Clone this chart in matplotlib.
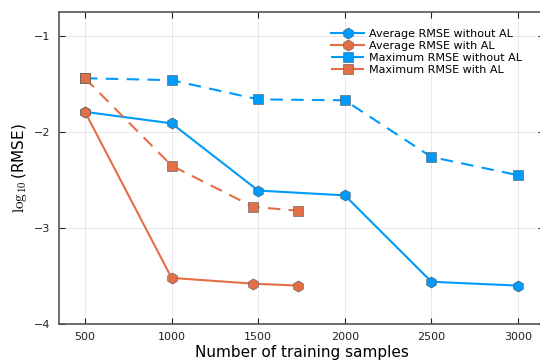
import matplotlib
matplotlib.use("Agg")
import matplotlib.pyplot as plt

samples = [500, 1000, 1500, 2000, 2500, 3000]
avg_without_al = [-1.79, -1.91, -2.61, -2.66, -3.56, -3.60]
max_without_al = [-1.44, -1.46, -1.66, -1.67, -2.26, -2.45]
samples_al = [500, 1000, 1472, 1732]
avg_with_al = [-1.79, -3.52, -3.58, -3.60]
max_with_al = [-1.44, -2.35, -2.78, -2.82]

blue = "#009AFA"
orange = "#E26F46"
edge = "#555555"

plt.rcParams['mathtext.fontset'] = 'cm'
fig = plt.figure(figsize=(5.4, 3.6), dpi=100)
ax = fig.add_axes([59/540, 1-324/360, (544-59)/540, (324-12)/360])

ax.plot(samples, avg_without_al, color=blue, lw=1.5, marker='h', ms=8,
        mec=edge, mew=0.4, label='Average RMSE without AL')
ax.plot(samples_al, avg_with_al, color=orange, lw=1.5, marker='h', ms=8,
        mec=edge, mew=0.4, label='Average RMSE with AL')
ax.plot(samples, max_without_al, color=blue, lw=1.5, ls=(0, (6, 4)), marker='s', ms=6.5,
        mec=edge, mew=0.4, label='Maximum RMSE without AL')
ax.plot(samples_al, max_with_al, color=orange, lw=1.5, ls=(0, (6, 4)), marker='s', ms=6.5,
        mec=edge, mew=0.4, label='Maximum RMSE with AL')

ax.set_xlim(350, 3150)
ax.set_ylim(-4, -0.75)
ax.set_xticks(samples)
ax.set_yticks([-4, -3, -2, -1])
ax.grid(True, color='#000000', alpha=0.1, lw=0.6)
ax.tick_params(direction='in', top=True, right=True, length=4, width=0.8,
               labelsize=8, colors='#222222', labelcolor='#222222', pad=6)
for s in ax.spines.values():
    s.set_color('#555555')
    s.set_linewidth(1.2)

ax.set_xlabel('Number of training samples', fontsize=11, labelpad=2)
ax.set_ylabel(r'$\log_{10}$(RMSE)', fontsize=11, labelpad=4)

leg = ax.legend(loc='upper right', bbox_to_anchor=(0.968, 0.966), frameon=False, fontsize=8,
                handlelength=3.0, labelspacing=0.18, borderaxespad=0.2, handletextpad=0.4,
                numpoints=1)

fig.savefig('out.png', dpi=100)
